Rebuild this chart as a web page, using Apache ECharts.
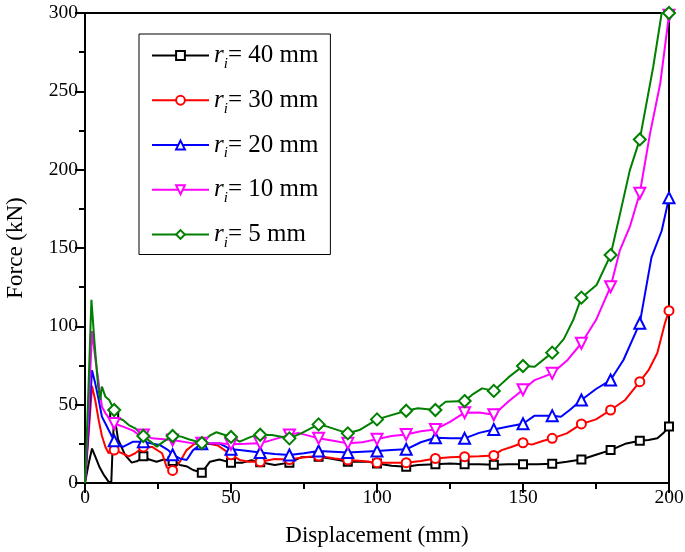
<!DOCTYPE html>
<html>
<head>
<meta charset="utf-8">
<script src="https://cdn.jsdelivr.net/npm/echarts@6/dist/echarts.min.js"></script>
<style>html,body{margin:0;padding:0;background:#fff}#c{width:685px;height:552px}</style>
</head>
<body>
<div id="c"></div>
<script>
// Displacement (mm) and force (kN) for each inner radius r_i
const x40 = [0,1.2,2.4,3.5,5,6.5,8,9,9.4,10,11.3,13.7,16,18,20,22,24.5,27,30,32.5,35,37,40,42.8,46,50,54,57,60,65,70,74,80,84,90,97,100,105,110,114,120,125,130,135,140,145,150,155,160,165,170,175,180,185,190,193,196,198,200];
const f40 = [0,12,22,17,10,5,1,0,20,44,28,18,13,14,17,15,13.6,15,14,11.5,10.5,8.3,6.6,13.6,15,13,13,14.5,13.2,11.5,13,16.4,16.8,15.7,13.6,13.6,12.5,11,10.4,11.5,12,12.5,12,12,11.7,12,12,12,12.3,13.5,15,18,21,25,27,27.5,28.5,31.7,36];

const x30 = [0,1.2,2.4,3.5,4.7,5.8,7,8.1,10,12.7,15,17.2,20,23,26.4,28,30,32.5,34.8,37.5,41,45.5,50,53,56,60,65,70,75,80,85.6,90,95,100,105,110,115,120,125,130,135,140,142.7,146,150,153,157,160,165,170,175,180,185,190,193,196,198.6,200];
const f30 = [0,30,62,53,40,30,23,19,21,19,17,19,23,23,19,10,8,13.6,21,25,25.5,24,18,14.7,13.5,13.5,15.3,15,16.4,17.2,15.7,14.7,14,13,13,13,14,15.7,16.5,16.8,17,17.6,21,23,25.7,24.5,27,28.5,31.7,37.7,40.6,46.6,53,64.7,72,83,102,110];

const x20 = [0,1.2,2.4,3.5,4.7,5.8,7,8.1,10,13,16.5,20,22.5,25.7,28.5,30,32.5,34.8,37,40,46,50,53,60,65,70,75,80,85,90,95,100,105,110,115,120,125,130,135,140,145,150,154,160,163,166,170,175,180,184.4,190,194,197.5,200];
const f20 = [0,35,72,63.6,53,42.3,38,33.8,27,23,26.4,26.4,25.3,24.2,21,18,15.7,14.7,21,25,25.3,21.5,21,19.4,18.5,17.9,19,20.4,20,19.4,20,20.4,21,21.5,26,28.9,28.5,28.5,32,34.2,36,37.8,43,43,42.3,46.6,53,60,65.7,78.5,102,144,161,182];

const x10 = [0,1.2,2.4,3.5,4.7,5.8,7,8.5,10,13,16.5,18,20,23,30,37,40,46,50,55,60,65,70,73,80,85,90,95,100,105,110,115,120,125,130,135,140,145,150,154,160,165,170,175,180,183.2,186.6,190,193.5,197,200];
const f10 = [0,45,97,80,63.6,48.7,44.5,41,38,36,33.4,31.3,30.6,28.5,27.4,25.3,25.3,25.3,24.8,25,25.3,28,30.6,32,28.5,27,25.3,26,28,30,31,33,34.2,39,44.9,45,43.6,52,59.5,65.7,70,78,89.2,104,125.3,148.7,163.6,185,223,255,298.6];

const x5 = [0,1,2.2,3.2,4.5,5.2,5.8,7,8.3,10,11.5,13,15,17.2,20,22.4,24.6,26.9,30,33,35.5,40,43,45,50,53,57,60,64,70,74,80,83,90,94,100,110,114,120,123.5,130,132.5,136,140,145,150,154,160,164,167.2,170,175.2,180,183,186.6,190,194.6,197.5,200];
const f5 = [0,50,117,91,61.5,53,61.5,55,53,46.6,41.3,40.2,37,34.9,30,26.4,23.2,26.4,30,29.6,27.9,25.5,30.6,32.4,29.4,26.4,29.6,30.8,30.6,28.5,31.7,37.4,36,31.7,33.8,40.6,46.1,47.7,46.6,51.9,52.3,56.2,60.4,58.8,67.4,74.7,74.2,83.2,92,104,118.3,126.4,145.5,170,199.7,219.3,265.7,300,300];

const seriesNames = ['40', '30', '20', '10', '5'];
const xTicks = [0, 50, 100, 150, 200];
const yTicks = [0, 50, 100, 150, 200, 250, 300];

const FONT = 'Liberation Serif';

function build(xs, fs) {
  return xs.map((x, k) => (x > 0 && x % 10 === 0) ? [x, fs[k]] : { value: [x, fs[k]], symbol: 'none' });
}

const styles = [
  { c: '#000000', s: 'emptyRect', size: 8, rot: 0 },
  { c: '#ff0000', s: 'emptyCircle', size: 9, rot: 0 },
  { c: '#0000ff', s: 'emptyTriangle', size: 11, rot: 0 },
  { c: '#ff00ff', s: 'emptyTriangle', size: 11, rot: 180 },
  { c: '#008000', s: 'emptyDiamond', size: 12, rot: 0 }
];
const xsAll = [x40, x30, x20, x10, x5];
const fsAll = [f40, f30, f20, f10, f5];

const series = seriesNames.map((n, k) => ({
  name: n,
  type: 'line',
  data: build(xsAll[k], fsAll[k]),
  symbol: styles[k].s,
  symbolSize: styles[k].size,
  symbolRotate: styles[k].rot,
  showAllSymbol: true,
  lineStyle: { color: styles[k].c, width: 2 },
  itemStyle: { color: styles[k].c, borderWidth: 2 },
  emphasis: { disabled: true },
  animation: false
}));

const chart = echarts.init(document.getElementById('c'), null, { renderer: 'canvas' });
chart.setOption({
  animation: false,
  backgroundColor: '#fff',
  grid: { left: 85, right: 16, top: 13, bottom: 69, containLabel: false, outerBoundsMode: 'none',
          show: true, borderColor: '#000', borderWidth: 2, backgroundColor: 'transparent' },
  legend: {
    left: 139, top: 34, orient: 'vertical',
    borderColor: '#000', borderWidth: 1,
    padding: [9, 12, 4, 12],
    itemGap: 16.25,
    itemWidth: 57, itemHeight: 11,
    selectedMode: false,
    formatter: n => '{r|r}{i|i}{t|= ' + n + ' mm}',
    textStyle: {
      fontFamily: FONT, color: '#000',
      rich: {
        r: { fontFamily: FONT, fontSize: 25, fontStyle: 'italic', lineHeight: 32, color: '#000' },
        i: { fontFamily: FONT, fontSize: 15, fontStyle: 'italic', lineHeight: 15, verticalAlign: 'bottom', color: '#000' },
        t: { fontFamily: FONT, fontSize: 25, lineHeight: 32, color: '#000' }
      }
    }
  },
  xAxis: {
    type: 'value', min: xTicks[0], max: xTicks[xTicks.length - 1], interval: 50,
    name: 'Displacement (mm)', nameLocation: 'middle', nameGap: 41,
    nameTextStyle: { fontFamily: FONT, fontSize: 23, color: '#000' },
    axisLine: { show: true, lineStyle: { color: '#000', width: 2 } },
    axisTick: { show: true, inside: false, length: 10, lineStyle: { color: '#000', width: 2 } },
    minorTick: { show: true, splitNumber: 2, length: 6, lineStyle: { color: '#000', width: 2 } },
    splitLine: { show: false },
    axisLabel: { fontFamily: FONT, fontSize: 19.5, color: '#000', margin: 5 }
  },
  yAxis: {
    type: 'value', min: yTicks[0], max: yTicks[yTicks.length - 1], interval: 50,
    name: 'Force (kN)', nameLocation: 'middle', nameGap: 58,
    nameTextStyle: { fontFamily: FONT, fontSize: 23, color: '#000' },
    axisLine: { show: true, lineStyle: { color: '#000', width: 2 } },
    axisTick: { show: true, inside: false, length: 10, lineStyle: { color: '#000', width: 2 } },
    minorTick: { show: true, splitNumber: 2, length: 6, lineStyle: { color: '#000', width: 2 } },
    splitLine: { show: false },
    axisLabel: { fontFamily: FONT, fontSize: 19.5, color: '#000', margin: 7 }
  },
  series: series
});
</script>
</body>
</html>
